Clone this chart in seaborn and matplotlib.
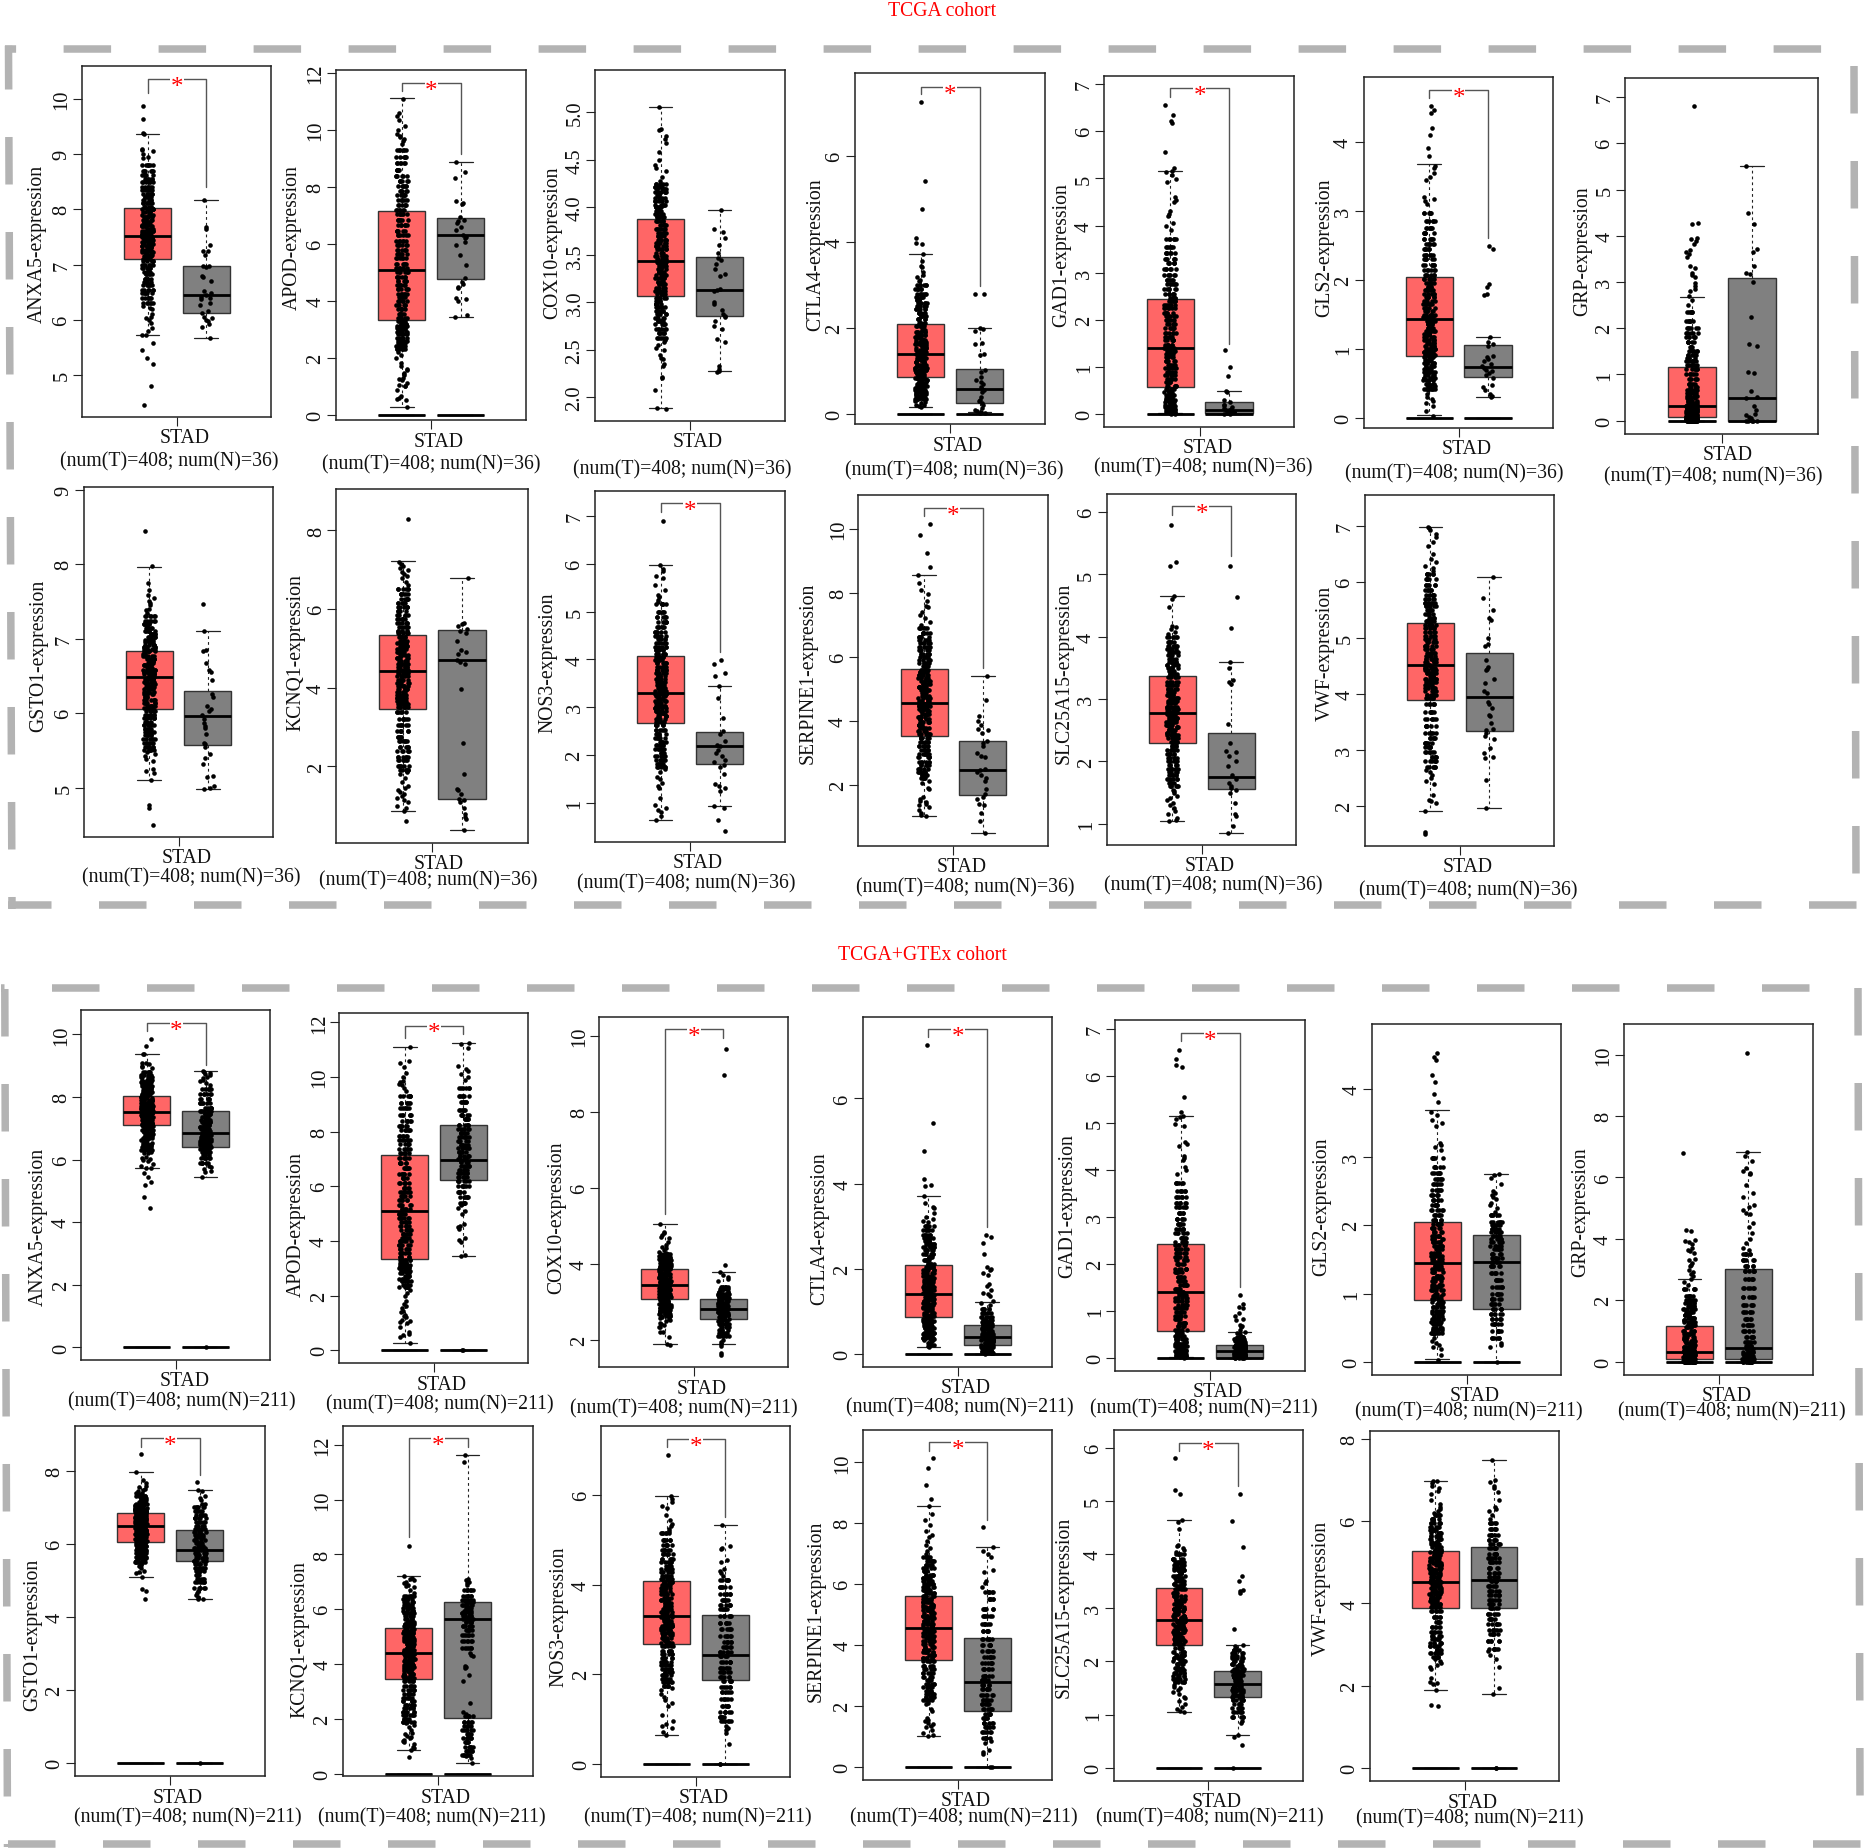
import numpy as np
import pandas as pd
import matplotlib
matplotlib.use('Agg')
import matplotlib.pyplot as plt
from matplotlib.lines import Line2D
from matplotlib.ticker import FormatStrFormatter
import seaborn as sns

W, H = 1866, 1849
GENES = ['ANXA5', 'APOD', 'COX10', 'CTLA4', 'GAD1', 'GLS2', 'GRP', 'GSTO1',
         'KCNQ1', 'NOS3', 'SERPINE1', 'SLC25A15', 'VWF']

# box summaries: low whisker, q1, median, q3, high whisker
T_STATS = [[5.72, 7.10, 7.52, 8.02, 9.36], [0.26, 3.33, 5.09, 7.14, 11.11], [1.89, 3.07, 3.44, 3.88, 5.06],
           [0.17, 0.86, 1.40, 2.09, 3.71], [0.02, 0.57, 1.40, 2.43, 5.15], [0.04, 0.90, 1.44, 2.05, 3.69],
           [0.0, 0.07, 0.32, 1.15, 2.68], [5.10, 6.06, 6.48, 6.84, 7.96], [0.86, 3.46, 4.42, 5.33, 7.21],
           [0.64, 2.67, 3.29, 4.08, 5.98], [1.03, 3.52, 4.55, 5.62, 8.56], [1.05, 2.30, 2.77, 3.37, 4.65],
           [1.91, 3.89, 4.52, 5.26, 6.98]]
N36_STATS = [[5.67, 6.12, 6.44, 6.98, 8.17], [3.44, 4.78, 6.31, 6.90, 8.86], [2.28, 2.86, 3.13, 3.48, 3.97],
             [0.05, 0.26, 0.59, 1.05, 2.0], [0.0, 0.02, 0.09, 0.25, 0.49], [0.30, 0.60, 0.74, 1.06, 1.17],
             [0.0, 0.0, 0.48, 3.09, 5.50], [4.98, 5.57, 5.96, 6.30, 7.10], [0.39, 1.17, 4.70, 5.47, 6.79],
             [0.94, 1.81, 2.19, 2.48, 3.45], [0.49, 1.66, 2.46, 3.37, 5.40], [0.86, 1.56, 1.75, 2.46, 3.59],
             [1.97, 3.34, 3.95, 4.73, 6.09]]
N211_STATS = [[5.45, 6.39, 6.84, 7.56, 8.82], [3.45, 6.24, 6.95, 8.24, 11.23], [1.90, 2.55, 2.82, 3.09, 3.78],
              [0.0, 0.22, 0.40, 0.67, 1.23], [0.0, 0.0, 0.15, 0.28, 0.55], [0.0, 0.78, 1.46, 1.86, 2.75],
              [0.0, 0.08, 0.45, 3.0, 6.84], [4.49, 5.52, 5.82, 6.39, 7.48], [0.40, 2.05, 5.63, 6.28, 11.64],
              [0.0, 1.88, 2.43, 3.32, 5.33], [0.0, 1.83, 2.78, 4.23, 7.21], [0.61, 1.32, 1.57, 1.81, 2.31],
              [1.80, 3.89, 4.57, 5.36, 7.49]]

# dots. The clouds are too dense to read one by one, so
# each value in a *_core list stands for CORE_REPEAT samples; tails are single dots
CORE_REPEAT = 6
T_CORE = {
    'ANXA5': [6.31, 6.4, 6.48, 6.54, 6.63, 6.69, 6.74, 6.82, 6.87, 6.94, 6.99, 7.06, 7.1, 7.15, 7.18, 7.23, 7.26, 7.31, 7.33, 7.37, 7.41, 7.44, 7.48, 7.5, 7.54, 7.57, 7.61, 7.64, 7.69, 7.72, 7.77, 7.8, 7.86, 7.9, 7.96, 8.0, 8.05, 8.11, 8.16, 8.23, 8.28, 8.35, 8.41, 8.49, 8.55, 8.63, 8.7, 8.81],
    'APOD': [2.3, 2.4, 2.52, 2.6, 2.7, 2.82, 2.9, 3.0, 3.06, 3.12, 3.2, 3.3, 3.4, 3.55, 3.7, 3.85, 4.0, 4.12, 4.25, 4.4, 4.55, 4.7, 4.85, 5.0, 5.15, 5.3, 5.5, 5.65, 5.8, 5.95, 6.1, 6.3, 6.45, 6.65, 6.85, 7.05, 7.2, 7.35, 7.55, 7.7, 7.85, 8.05, 8.2, 8.4, 8.6, 8.85, 9.05, 9.3],
    'COX10': [2.63, 2.68, 2.72, 2.77, 2.8, 2.84, 2.88, 2.91, 2.95, 2.98, 3.02, 3.05, 3.09, 3.12, 3.15, 3.19, 3.22, 3.26, 3.29, 3.32, 3.35, 3.38, 3.41, 3.43, 3.46, 3.49, 3.52, 3.56, 3.59, 3.63, 3.66, 3.7, 3.73, 3.77, 3.81, 3.86, 3.9, 3.93, 3.96, 4.0, 4.03, 4.07, 4.1, 4.13, 4.16, 4.19, 4.22, 4.25],
    'CTLA4': [0.35, 0.38, 0.42, 0.47, 0.5, 0.55, 0.6, 0.65, 0.7, 0.74, 0.78, 0.83, 0.88, 0.92, 0.97, 1.02, 1.07, 1.11, 1.15, 1.2, 1.25, 1.3, 1.34, 1.39, 1.44, 1.49, 1.53, 1.58, 1.63, 1.68, 1.73, 1.78, 1.84, 1.9, 1.96, 2.04, 2.12, 2.2, 2.28, 2.35, 2.43, 2.5, 2.58, 2.65, 2.72, 2.8, 2.9, 3.0],
    'GAD1': [0.05, 0.08, 0.11, 0.14, 0.17, 0.2, 0.25, 0.3, 0.34, 0.4, 0.46, 0.53, 0.6, 0.68, 0.74, 0.82, 0.9, 0.98, 1.05, 1.12, 1.2, 1.27, 1.33, 1.4, 1.47, 1.56, 1.64, 1.72, 1.82, 1.9, 2.0, 2.08, 2.15, 2.24, 2.32, 2.4, 2.46, 2.55, 2.66, 2.75, 2.85, 2.96, 3.08, 3.2, 3.3, 3.42, 3.55, 3.72],
    'GLS2': [0.42, 0.46, 0.5, 0.55, 0.58, 0.63, 0.67, 0.71, 0.75, 0.8, 0.84, 0.88, 0.92, 0.96, 1.0, 1.05, 1.09, 1.13, 1.18, 1.22, 1.26, 1.31, 1.36, 1.41, 1.46, 1.5, 1.55, 1.6, 1.65, 1.7, 1.75, 1.8, 1.85, 1.9, 1.96, 2.02, 2.08, 2.15, 2.22, 2.3, 2.37, 2.45, 2.52, 2.6, 2.68, 2.76, 2.85, 2.98],
    'GRP': [0.0, 0.0, 0.0, 0.0, 0.01, 0.01, 0.02, 0.03, 0.04, 0.05, 0.06, 0.07, 0.08, 0.1, 0.12, 0.14, 0.16, 0.18, 0.2, 0.22, 0.25, 0.27, 0.29, 0.31, 0.34, 0.38, 0.43, 0.48, 0.53, 0.6, 0.66, 0.73, 0.8, 0.9, 1.0, 1.12, 1.2, 1.28, 1.35, 1.42, 1.5, 1.6, 1.7, 1.8, 1.9, 2.0, 2.15, 2.35],
    'GSTO1': [5.5, 5.54, 5.6, 5.65, 5.7, 5.74, 5.79, 5.84, 5.88, 5.93, 5.98, 6.03, 6.07, 6.1, 6.14, 6.18, 6.21, 6.25, 6.28, 6.32, 6.35, 6.39, 6.42, 6.46, 6.49, 6.52, 6.55, 6.58, 6.61, 6.64, 6.67, 6.7, 6.73, 6.76, 6.79, 6.83, 6.86, 6.89, 6.92, 6.95, 6.98, 7.02, 7.06, 7.1, 7.14, 7.19, 7.24, 7.3],
    'KCNQ1': [1.9, 2.0, 2.15, 2.25, 2.4, 2.5, 2.65, 2.75, 2.9, 3.05, 3.2, 3.38, 3.5, 3.58, 3.66, 3.75, 3.82, 3.9, 3.98, 4.05, 4.13, 4.2, 4.3, 4.38, 4.46, 4.53, 4.6, 4.68, 4.75, 4.83, 4.9, 4.98, 5.05, 5.13, 5.2, 5.3, 5.38, 5.45, 5.55, 5.65, 5.75, 5.85, 5.95, 6.05, 6.15, 6.25, 6.38, 6.5],
    'NOS3': [1.75, 1.82, 1.9, 1.98, 2.05, 2.12, 2.2, 2.28, 2.36, 2.45, 2.53, 2.62, 2.7, 2.76, 2.82, 2.88, 2.93, 2.98, 3.03, 3.08, 3.13, 3.18, 3.23, 3.28, 3.33, 3.4, 3.46, 3.52, 3.58, 3.65, 3.71, 3.78, 3.85, 3.92, 3.99, 4.06, 4.12, 4.2, 4.27, 4.35, 4.42, 4.5, 4.58, 4.68, 4.78, 4.88, 5.0, 5.15],
    'SERPINE1': [2.2, 2.3, 2.4, 2.5, 2.62, 2.72, 2.85, 2.95, 3.08, 3.2, 3.32, 3.47, 3.58, 3.68, 3.78, 3.85, 3.95, 4.05, 4.13, 4.22, 4.3, 4.38, 4.46, 4.53, 4.62, 4.7, 4.78, 4.88, 4.96, 5.05, 5.15, 5.25, 5.33, 5.42, 5.52, 5.6, 5.7, 5.8, 5.9, 6.0, 6.1, 6.2, 6.3, 6.42, 6.52, 6.62, 6.75, 6.9],
    'SLC25A15': [1.6, 1.66, 1.72, 1.78, 1.83, 1.88, 1.94, 2.0, 2.06, 2.12, 2.18, 2.25, 2.32, 2.37, 2.42, 2.46, 2.5, 2.55, 2.59, 2.63, 2.66, 2.7, 2.73, 2.76, 2.8, 2.84, 2.88, 2.93, 2.97, 3.02, 3.07, 3.12, 3.17, 3.22, 3.28, 3.35, 3.4, 3.45, 3.5, 3.55, 3.6, 3.65, 3.7, 3.75, 3.8, 3.85, 3.92, 4.0],
    'VWF': [2.7, 2.8, 2.88, 2.97, 3.05, 3.13, 3.22, 3.3, 3.42, 3.55, 3.68, 3.82, 3.92, 3.98, 4.05, 4.1, 4.16, 4.22, 4.27, 4.32, 4.38, 4.43, 4.47, 4.52, 4.58, 4.63, 4.68, 4.74, 4.8, 4.85, 4.92, 4.98, 5.03, 5.1, 5.17, 5.24, 5.3, 5.36, 5.43, 5.5, 5.57, 5.63, 5.7, 5.77, 5.85, 5.95, 6.05, 6.15],
}
T_TAIL = {
    'ANXA5': [9.87, 9.63, 9.38, 9.36, 9.1, 9.08, 9.05, 9.0, 8.95, 8.92, 4.45, 4.8, 5.2, 5.3, 5.45, 5.58, 5.72, 5.73, 5.8, 5.85, 5.95, 6.0, 6.03, 6.05, 6.1, 6.2, 6.22, 6.25],
    'APOD': [11.08, 10.6, 10.5, 10.35, 10.15, 10.0, 9.85, 9.8, 9.75, 9.7, 9.6, 9.5, 0.26, 0.5, 0.55, 0.6, 0.65, 0.85, 1.0, 1.02, 1.05, 1.1, 1.2, 1.25, 1.3, 1.4, 1.45, 1.55, 1.6, 1.7, 1.8, 2.0, 2.1, 2.2],
    'COX10': [5.06, 4.83, 4.82, 4.75, 4.72, 4.68, 4.58, 4.5, 4.45, 4.42, 4.38, 4.32, 4.28, 1.89, 1.88, 2.08, 2.2, 2.22, 2.33, 2.35, 2.4, 2.42, 2.45, 2.5, 2.52, 2.55, 2.58, 2.6],
    'CTLA4': [7.25, 5.42, 4.77, 4.1, 3.97, 3.95, 3.71, 3.55, 3.45, 3.42, 3.3, 3.22, 3.18, 3.12, 3.1, 0.17, 0.18, 0.2, 0.22, 0.25, 0.27, 0.3, 0.33],
    'GAD1': [6.55, 6.35, 6.22, 6.18, 5.55, 5.22, 5.15, 5.13, 5.07, 4.98, 4.93, 4.6, 4.55, 4.5, 4.3, 4.25, 4.2, 4.05, 4.0, 3.9, 0.0, 0.01, 0.02, 0.02, 0.03, 0.03, 0.04, 0.04],
    'GLS2': [4.52, 4.47, 4.42, 4.2, 4.1, 3.92, 3.8, 3.66, 3.62, 3.55, 3.5, 3.45, 3.2, 3.18, 3.15, 3.1, 0.03, 0.1, 0.18, 0.22, 0.25, 0.28, 0.3, 0.35, 0.4],
    'GRP': [6.8, 4.28, 4.25, 3.95, 3.92, 3.88, 3.82, 3.7, 3.65, 3.6, 3.55, 3.35, 3.3, 3.2, 3.15, 3.1, 2.98, 2.92, 2.85, 2.8, 2.7, 2.6, 2.5],
    'GSTO1': [8.45, 7.97, 7.75, 7.65, 7.58, 7.55, 7.5, 7.48, 7.45, 7.4, 7.38, 7.35, 4.5, 4.72, 4.77, 5.1, 5.2, 5.22, 5.25, 5.35, 5.38, 5.42, 5.45, 5.48],
    'KCNQ1': [8.3, 7.2, 7.15, 7.1, 7.05, 7.0, 6.95, 6.9, 6.85, 6.8, 6.7, 6.6, 0.62, 0.86, 0.95, 1.0, 1.1, 1.15, 1.2, 1.25, 1.3, 1.35, 1.4, 1.45, 1.5, 1.6, 1.7, 1.8, 1.85],
    'NOS3': [6.9, 5.98, 5.9, 5.85, 5.75, 5.7, 5.55, 5.45, 5.35, 5.3, 5.25, 5.2, 0.64, 0.72, 0.8, 0.85, 0.9, 0.95, 1.1, 1.3, 1.35, 1.42, 1.5, 1.55, 1.65, 1.7],
    'SERPINE1': [10.15, 9.8, 9.25, 8.8, 8.55, 8.3, 8.1, 7.95, 7.75, 7.6, 7.55, 7.4, 7.3, 7.2, 7.1, 7.0, 1.03, 1.05, 1.1, 1.2, 1.3, 1.35, 1.4, 1.45, 1.5, 1.55, 1.6, 1.85, 1.9, 2.05, 2.1],
    'SLC25A15': [5.8, 5.2, 5.14, 4.65, 4.6, 4.47, 4.17, 4.15, 4.12, 4.08, 4.05, 1.05, 1.06, 1.1, 1.15, 1.2, 1.25, 1.3, 1.33, 1.38, 1.42, 1.45, 1.5, 1.52, 1.55],
    'VWF': [6.98, 6.96, 6.93, 6.85, 6.8, 6.72, 6.65, 6.5, 6.42, 6.35, 6.28, 6.25, 6.2, 1.5, 1.53, 1.91, 2.05, 2.08, 2.1, 2.2, 2.4, 2.45, 2.5, 2.55, 2.6, 2.65],
}
N36_DOTS = {
    'ANXA5': [8.17, 7.68, 7.65, 7.35, 7.25, 7.24, 7.18, 6.98, 6.97, 6.96, 6.8, 6.78, 6.7, 6.52, 6.48, 6.44, 6.42, 6.4, 6.38, 6.3, 6.27, 6.15, 6.12, 6.05, 6.03, 6.0, 5.98, 5.93, 5.87, 5.67],
    'APOD': [8.86, 8.52, 8.3, 7.5, 7.42, 7.4, 6.95, 6.85, 6.8, 6.72, 6.6, 6.5, 6.3, 6.25, 6.2, 6.05, 5.95, 5.6, 5.25, 4.8, 4.65, 4.6, 4.5, 4.45, 4.1, 4.05, 3.98, 3.5, 3.44],
    'COX10': [3.97, 3.77, 3.74, 3.68, 3.6, 3.52, 3.47, 3.45, 3.4, 3.35, 3.3, 3.28, 3.14, 3.13, 3.12, 3.0, 2.98, 2.92, 2.88, 2.86, 2.85, 2.8, 2.75, 2.72, 2.62, 2.58, 2.33, 2.3, 2.28, 2.27],
    'CTLA4': [2.8, 2.78, 2.0, 1.98, 1.92, 1.65, 1.62, 1.4, 1.38, 1.02, 0.98, 0.85, 0.8, 0.75, 0.7, 0.62, 0.58, 0.55, 0.5, 0.4, 0.33, 0.3, 0.25, 0.2, 0.15, 0.1, 0.08, 0.05, 0.03, 0.02],
    'GAD1': [1.35, 1.0, 0.8, 0.49, 0.47, 0.3, 0.25, 0.2, 0.18, 0.15, 0.12, 0.1, 0.09, 0.08, 0.07, 0.06, 0.05, 0.04, 0.03, 0.02, 0.01, 0.0],
    'GLS2': [2.5, 2.45, 1.95, 1.9, 1.8, 1.78, 1.17, 1.1, 1.07, 1.05, 0.9, 0.88, 0.85, 0.82, 0.78, 0.75, 0.73, 0.7, 0.68, 0.65, 0.62, 0.58, 0.48, 0.45, 0.4, 0.35, 0.32, 0.3],
    'GRP': [5.5, 4.5, 4.25, 3.72, 3.65, 3.35, 3.2, 3.18, 3.0, 2.25, 1.65, 1.62, 1.05, 1.03, 0.65, 0.5, 0.48, 0.32, 0.22, 0.15, 0.12, 0.08, 0.05, 0.02, 0.0, 0.0, 0.0, 0.0, 0.0],
    'GSTO1': [7.47, 7.1, 6.85, 6.84, 6.67, 6.58, 6.55, 6.45, 6.25, 6.22, 6.1, 6.05, 6.03, 5.98, 5.92, 5.87, 5.82, 5.8, 5.72, 5.6, 5.58, 5.55, 5.45, 5.4, 5.32, 5.15, 5.14, 5.02, 5.0, 4.98],
    'KCNQ1': [6.79, 5.65, 5.62, 5.58, 5.5, 5.45, 5.4, 5.2, 4.95, 4.9, 4.85, 4.7, 4.65, 4.6, 3.98, 2.6, 1.8, 1.43, 1.4, 1.3, 1.18, 1.15, 1.1, 0.95, 0.8, 0.72, 0.65, 0.39],
    'NOS3': [3.98, 3.9, 3.72, 3.65, 3.45, 3.2, 2.78, 2.5, 2.45, 2.3, 2.2, 2.18, 2.1, 2.05, 1.98, 1.9, 1.85, 1.8, 1.75, 1.6, 1.4, 1.35, 1.3, 1.25, 0.94, 0.9, 0.65, 0.42],
    'SERPINE1': [5.4, 4.65, 4.15, 4.0, 3.85, 3.75, 3.7, 3.6, 3.35, 3.3, 3.2, 3.0, 2.9, 2.85, 2.5, 2.45, 2.4, 2.3, 2.2, 2.1, 1.85, 1.7, 1.6, 1.55, 1.4, 1.35, 1.1, 0.85, 0.49],
    'SLC25A15': [5.14, 4.63, 4.14, 3.59, 3.5, 3.3, 3.28, 3.25, 2.6, 2.3, 2.17, 2.15, 2.08, 2.0, 1.93, 1.78, 1.72, 1.65, 1.6, 1.58, 1.55, 1.5, 1.33, 1.15, 1.12, 0.97, 0.86],
    'VWF': [6.09, 5.72, 5.5, 5.35, 5.32, 5.0, 4.9, 4.85, 4.6, 4.48, 4.45, 4.42, 4.27, 4.2, 4.05, 4.02, 3.86, 3.82, 3.75, 3.62, 3.6, 3.48, 3.38, 3.35, 3.3, 3.25, 3.2, 3.03, 2.95, 2.88, 2.85, 2.46, 1.97],
}
N211_CORE = {
    'ANXA5': [5.9, 6.05, 6.15, 6.25, 6.33, 6.4, 6.46, 6.52, 6.58, 6.65, 6.72, 6.8, 6.85, 6.92, 6.98, 7.05, 7.12, 7.2, 7.28, 7.36, 7.45, 7.55, 7.65, 7.8, 7.95, 8.1, 8.25],
    'APOD': [5.4, 5.6, 5.8, 6.0, 6.2, 6.35, 6.5, 6.6, 6.75, 6.9, 7.0, 7.1, 7.25, 7.4, 7.5, 7.65, 7.8, 7.95, 8.1, 8.25, 8.45, 8.6, 8.8, 9.1, 9.3, 9.6],
    'COX10': [2.1, 2.18, 2.26, 2.34, 2.42, 2.5, 2.56, 2.61, 2.66, 2.7, 2.74, 2.78, 2.82, 2.86, 2.9, 2.94, 2.98, 3.02, 3.06, 3.1, 3.14, 3.18, 3.22, 3.27, 3.33, 3.4],
    'CTLA4': [0.02, 0.05, 0.08, 0.1, 0.13, 0.16, 0.19, 0.22, 0.25, 0.28, 0.3, 0.33, 0.36, 0.4, 0.43, 0.47, 0.5, 0.54, 0.58, 0.62, 0.66, 0.7, 0.75, 0.8, 0.86, 0.95, 1.05],
    'GAD1': [0.0, 0.01, 0.02, 0.03, 0.04, 0.05, 0.06, 0.07, 0.08, 0.09, 0.1, 0.12, 0.13, 0.15, 0.16, 0.18, 0.2, 0.22, 0.24, 0.26, 0.28, 0.3, 0.33, 0.36, 0.4, 0.45],
    'GLS2': [0.35, 0.45, 0.55, 0.62, 0.7, 0.78, 0.85, 0.92, 1.0, 1.1, 1.2, 1.3, 1.4, 1.46, 1.52, 1.58, 1.65, 1.7, 1.75, 1.8, 1.85, 1.9, 1.95, 2.0, 2.05, 2.15],
    'GRP': [0.0, 0.0, 0.02, 0.04, 0.06, 0.08, 0.12, 0.18, 0.25, 0.32, 0.42, 0.5, 0.65, 0.8, 1.0, 1.2, 1.4, 1.6, 1.85, 2.1, 2.4, 2.7, 2.95, 3.1, 3.3, 3.5],
    'GSTO1': [4.8, 4.95, 5.05, 5.15, 5.25, 5.35, 5.45, 5.52, 5.6, 5.68, 5.75, 5.82, 5.88, 5.95, 6.02, 6.1, 6.18, 6.25, 6.32, 6.4, 6.5, 6.6, 6.7, 6.8, 6.9, 7.0],
    'KCNQ1': [0.7, 0.85, 1.0, 1.15, 1.3, 1.45, 1.6, 1.75, 1.9, 2.1, 4.6, 4.85, 5.05, 5.25, 5.4, 5.55, 5.65, 5.75, 5.85, 5.95, 6.05, 6.15, 6.25, 6.35, 6.5, 6.7],
    'NOS3': [0.95, 1.05, 1.15, 1.3, 1.45, 1.6, 1.72, 1.85, 1.95, 2.05, 2.15, 2.28, 2.4, 2.5, 2.6, 2.72, 2.85, 3.0, 3.15, 3.3, 3.45, 3.55, 3.65, 3.8, 3.95, 4.1],
    'SERPINE1': [0.95, 1.15, 1.3, 1.45, 1.6, 1.75, 1.9, 2.05, 2.2, 2.35, 2.55, 2.7, 2.85, 3.0, 3.2, 3.4, 3.6, 3.8, 4.0, 4.2, 4.45, 4.7, 4.95, 5.2, 5.5, 5.75],
    'SLC25A15': [0.95, 1.05, 1.12, 1.2, 1.28, 1.32, 1.36, 1.42, 1.46, 1.5, 1.54, 1.58, 1.62, 1.66, 1.7, 1.74, 1.78, 1.82, 1.86, 1.9, 1.95, 2.0, 2.05, 2.1, 2.15, 2.2],
    'VWF': [2.9, 3.1, 3.25, 3.35, 3.5, 3.62, 3.75, 3.88, 3.98, 4.08, 4.2, 4.3, 4.42, 4.55, 4.65, 4.75, 4.85, 5.0, 5.1, 5.2, 5.35, 5.45, 5.55, 5.65, 5.8, 5.95],
}
N211_TAIL = {
    'ANXA5': [8.82, 8.8, 8.78, 8.75, 8.7, 8.65, 8.6, 8.55, 8.5, 8.45, 8.4, 5.45, 5.6, 5.65, 5.7, 5.75, 5.8, 0.0],
    'APOD': [11.25, 11.2, 11.05, 10.4, 10.3, 10.2, 10.1, 10.0, 9.9, 5.3, 5.2, 5.1, 5.0, 4.6, 4.55, 4.5, 4.45, 4.1, 4.05, 3.95, 3.5, 3.45, 0.0, 0.0],
    'COX10': [9.67, 8.97, 3.97, 3.78, 3.7, 3.65, 3.6, 3.55, 1.9, 1.85, 1.65, 1.6, 1.95, 2.0],
    'CTLA4': [2.8, 2.75, 2.6, 2.35, 2.05, 2.0, 1.98, 1.9, 1.85, 1.65, 1.6, 1.5, 1.42, 1.4, 1.35, 1.25, 1.2, 1.15, 0.0],
    'GAD1': [1.33, 1.15, 1.08, 1.05, 0.95, 0.9, 0.82, 0.8, 0.7, 0.68, 0.65, 0.6, 0.55, 0.52, 0.5],
    'GLS2': [2.75, 2.73, 2.7, 2.6, 2.5, 2.48, 2.45, 2.42, 2.38, 2.32, 2.3, 2.25, 2.2, 0.28, 0.25, 0.22, 0.0],
    'GRP': [10.05, 6.84, 6.7, 6.55, 6.3, 6.2, 6.15, 6.1, 5.75, 5.5, 5.35, 5.1, 5.05, 4.95, 4.85, 4.8, 4.5, 4.4, 4.2, 4.0, 3.85, 3.7, 3.65],
    'GSTO1': [7.68, 7.48, 7.45, 7.3, 7.25, 7.2, 7.1, 7.08, 4.49, 4.5, 4.55, 4.6, 4.65, 4.7, 0.0],
    'KCNQ1': [11.64, 11.35, 7.1, 7.05, 7.0, 6.95, 6.9, 4.4, 4.35, 4.3, 3.95, 3.9, 3.85, 3.6, 3.4, 2.6, 2.25, 2.2, 0.65, 0.6, 0.4],
    'NOS3': [5.33, 4.85, 4.82, 4.8, 4.55, 4.5, 4.35, 4.3, 4.25, 4.2, 0.85, 0.8, 0.75, 0.7, 0.45, 0.0, 0.0],
    'SERPINE1': [7.87, 7.21, 7.1, 7.0, 6.9, 6.45, 6.4, 6.1, 6.05, 5.9, 0.85, 0.8, 0.55, 0.48, 0.42, 0.0, 0.0],
    'SLC25A15': [5.14, 4.63, 4.13, 3.59, 3.5, 3.33, 3.32, 3.28, 2.61, 2.31, 2.28, 2.25, 0.88, 0.85, 0.61, 0.58, 0.43, 0.0],
    'VWF': [7.49, 7.0, 6.95, 6.85, 6.8, 6.7, 6.5, 6.35, 6.3, 6.25, 6.15, 6.05, 2.85, 2.75, 2.65, 2.45, 1.95, 1.8, 0.0, 0.0],
}

YTICKS_36 = [[5, 6, 7, 8, 9, 10], [0, 2, 4, 6, 8, 10, 12], [2, 2.5, 3, 3.5, 4, 4.5, 5], [0, 2, 4, 6],
             [0, 1, 2, 3, 4, 5, 6, 7], [0, 1, 2, 3, 4], [0, 1, 2, 3, 4, 5, 6, 7], [5, 6, 7, 8, 9], [2, 4, 6, 8],
             [1, 2, 3, 4, 5, 6, 7], [2, 4, 6, 8, 10], [1, 2, 3, 4, 5, 6], [2, 3, 4, 5, 6, 7]]
YTICKS_211 = [[0, 2, 4, 6, 8, 10], [0, 2, 4, 6, 8, 10, 12], [2, 4, 6, 8, 10], [0, 2, 4, 6],
              [0, 1, 2, 3, 4, 5, 6, 7], [0, 1, 2, 3, 4], [0, 2, 4, 6, 8, 10], [0, 2, 4, 6, 8], [0, 2, 4, 6, 8, 10, 12],
              [0, 2, 4, 6], [0, 2, 4, 6, 8, 10], [0, 1, 2, 3, 4, 5, 6], [0, 2, 4, 6, 8]]
YLIM_36 = [(4.245, 10.60), (-0.20, 12.12), (1.755, 5.45), (-0.24, 7.92), (-0.27, 7.18), (-0.145, 4.95), (-0.29, 7.42),
           (4.34, 9.04), (0.06, 9.06), (0.18, 7.53), (0.08, 11.07), (0.66, 6.29), (1.29, 7.56)]
YLIM_211 = [(-0.40, 10.79), (-0.48, 12.35), (1.28, 10.51), (-0.30, 7.92), (-0.28, 7.18), (-0.19, 4.95), (-0.43, 11.0),
            (-0.36, 9.23), (-0.085, 12.69), (-0.29, 7.53), (-0.43, 11.07), (-0.24, 6.33), (-0.315, 8.19)]

# significance brackets: left end, top, right end (None = not significant)
BRACKET_36 = [(10.11, 10.36, 8.41), (11.38, 11.66, 9.15), None, (7.43, 7.61, 2.97), (6.72, 6.91, 1.49),
              (4.64, 4.76, 2.61), None, None, None, (7.09, 7.27, 4.16), (10.40, 10.66, 5.64), (5.95, 6.09, 5.29), None]
BRACKET_211 = [(10.10, 10.37, 9.03), (11.41, 11.88, 11.57), (5.32, 10.18, 9.95), (7.44, 7.63, 2.98), (6.73, 6.90, 1.50),
               None, None, (8.66, 8.89, 7.88), (8.63, 12.23, 11.93), (7.06, 7.25, 5.50), (10.38, 10.66, 8.12),
               (5.94, 6.09, 5.29), None]

# layout in reference pixels: left, top, right, bottom
BOX_36 = [(82, 66.7, 271, 417.7), (336, 70.7, 526, 421.3), (595, 70.7, 784.5, 421.7), (855, 74.3, 1044.6, 425.3),
          (1104.4, 76.7, 1294, 427.7), (1363.5, 77.7, 1553, 429), (1624.8, 78.7, 1817.7, 435),
          (83.7, 487.7, 272.7, 837.7), (336.3, 489.7, 527.8, 843.7), (595, 491.7, 784.5, 843),
          (858.4, 495.7, 1047.8, 847), (1106.5, 495, 1296.3, 846), (1364.8, 495.7, 1554, 846.7)]
BOX_211 = [(81.4, 1010.7, 270.4, 1361), (339.3, 1013.7, 528.2, 1364.3), (599.3, 1017.7, 788.3, 1368.3),
           (862.8, 1017.7, 1052.2, 1367.7), (1115.3, 1021.3, 1304.5, 1372), (1371.6, 1025, 1561, 1375.7),
           (1623.5, 1025, 1813.4, 1375.7), (75, 1426.7, 265, 1777.3), (342.9, 1426.7, 532.7, 1777.3),
           (601.2, 1427.3, 790.2, 1778), (862.9, 1430.7, 1052.2, 1781), (1113.5, 1431, 1302.5, 1781.7),
           (1369.8, 1431.7, 1558.8, 1782.3)]
# y label: distance left of the frame, centre y
YLAB_36 = [(45, 244), (44, 238), (42, 242.5), (39, 255), (43, 255), (38.5, 248), (42.5, 251), (45, 656), (40, 653),
           (47, 663), (50, 673), (42, 673), (40, 653)]
YLAB_211 = [(43, 1226.7), (43, 1225), (43, 1217.5), (43, 1229), (48, 1205.8), (50, 1206.7), (43, 1212.5),
            (42.5, 1634.7), (43, 1640), (42, 1616.7), (47, 1611), (49, 1607), (49, 1588)]
# "(num...)" line: centre x from frame left, centre y below frame bottom
NUM_36 = [(87.7, 42), (95, 41), (87, 46), (99.6, 43), (99, 38), (91, 42), (88, 39), (107.3, 38), (91.5, 35),
          (91.5, 38), (107, 38), (107, 37), (103, 41.5)]
NUM_211 = [(100.4, 38), (100.7, 38), (84.6, 38), (96.8, 38), (89, 34), (97, 34), (108.8, 34), (113, 38), (89, 38),
           (96.7, 37), (100.8, 34), (96.5, 33.3), (100, 33.7)]

RED = '#FF6666'
GREY = '#808080'
ORDER = ['Tumor', 'Normal']
FONT = 14.2
TICK_FONT = 14.8
INK = '#111111'
PX = 0.72  # points per pixel at dpi=100

sns.set_theme(style='ticks')
plt.rcParams['font.family'] = ['Liberation Serif']
plt.rcParams['lines.scale_dashes'] = False
np.random.seed(7)

fig = plt.figure(figsize=(W / 100, H / 100), dpi=100)


def fx(x):
    return x / W


def fy(y):
    return 1 - y / H


def box_frame(t_stats, n_stats):
    return pd.DataFrame({'group': ['Tumor'] * 5 + ['Normal'] * 5, 'value': list(t_stats) + list(n_stats)})


def draw_boxes(ax, frame):
    sns.boxplot(data=frame, x='group', y='value', hue='group', order=ORDER, hue_order=ORDER,
                palette=[RED, GREY], saturation=1, width=0.8, whis=(0, 100), fliersize=0,
                linecolor='#333333', linewidth=1.0, legend=False, ax=ax,
                medianprops={'color': 'black', 'linewidth': 2.0},
                whiskerprops={'color': '#222222', 'linewidth': 0.8, 'linestyle': (0, (2, 2.2))},
                capprops={'color': '#222222', 'linewidth': 0.9})


def draw_panel(i, box, t_stats, n_stats, t_dots, n_dots, ylim, yticks, bracket, ylab, num, n_text):
    gene = GENES[i]
    left, top, right, bottom = box
    ax = fig.add_axes([fx(left), fy(bottom), (right - left) / W, (bottom - top) / H])

    # the flat black bars at zero are boxes of all-zero groups
    if ylim[0] < 0:
        draw_boxes(ax, box_frame([0] * 5, [0] * 5))
    draw_boxes(ax, box_frame(t_stats, n_stats))

    dots = pd.DataFrame({'group': ['Tumor'] * len(t_dots) + ['Normal'] * len(n_dots),
                         'value': list(t_dots) + list(n_dots)})
    sns.stripplot(data=dots, x='group', y='value', order=ORDER, color='black', size=3.3,
                  linewidth=0, jitter=0.1, ax=ax, zorder=5)

    if bracket is not None:
        ax.plot([0, 0, 1, 1], [bracket[0], bracket[1], bracket[1], bracket[2]], color='#555555', lw=1.0, zorder=3)
        ax.annotate('*', xy=(0.5, bracket[1]), xytext=(0, -10), textcoords='offset points', ha='center',
                    va='baseline', color='red', fontsize=18, zorder=4,
                    bbox={'facecolor': 'white', 'edgecolor': 'none', 'pad': 0.3})

    ax.set_xlim(-1.116, 2.104)
    ax.set_ylim(*ylim)
    ax.set_xticks([0.5], [''])
    ax.set_yticks(yticks)
    if gene == 'COX10' and n_text == '36':
        ax.yaxis.set_major_formatter(FormatStrFormatter('%.1f'))
    ax.tick_params(axis='both', length=6.5, width=0.8, color='#222222', labelcolor=INK, pad=1)
    ax.tick_params(axis='y', labelsize=TICK_FONT, labelrotation=90)
    for lab in ax.get_yticklabels():
        lab.set_va('center')
    for spine in ax.spines.values():
        spine.set_visible(True)
        spine.set_linewidth(1.1)
        spine.set_color('#222222')

    ax.set_xlabel('')
    ax.set_ylabel(gene + '-expression', fontsize=FONT, color=INK, va='center')
    ax.yaxis.set_label_coords(-ylab[0] / (right - left), 1 - (ylab[1] - top) / (bottom - top))

    fig.text(fx(left + 102.8), fy(bottom + 20.8), 'STAD', ha='center', va='center', fontsize=FONT, color=INK)
    fig.text(fx(left + num[0]), fy(bottom + num[1] + 2.5), '(num(T)=408; num(N)=%s)' % n_text, ha='center',
             va='center', fontsize=FONT, color=INK)


def dash_line(x0, y0, x1, y1, offset):
    fig.add_artist(Line2D([fx(x0), fx(x1)], [fy(y0), fy(y1)], color='#B3B3B3', lw=7.5 * PX,
                          linestyle=(offset * PX, (47.5 * PX, 47.5 * PX)), transform=fig.transFigure))


# dashed frames of the two cohorts
dash_line(5, 50, 1855, 50, 36.4)
dash_line(8.5, 46.7, 12, 910, 3.7)
dash_line(1854, 67, 1856, 880, 0)
dash_line(8, 906, 1858, 906, 4)
dash_line(1, 989, 1812, 989, 44)
dash_line(4.8, 990, 7.5, 1848, 0)
dash_line(1858, 989, 1860, 1800, 0)
dash_line(8, 1845, 1862, 1845, 0)

for i, gene in enumerate(GENES):
    t_dots = list(np.repeat(T_CORE[gene], CORE_REPEAT)) + T_TAIL[gene]
    n211_dots = list(np.repeat(N211_CORE[gene], CORE_REPEAT)) + N211_TAIL[gene]
    draw_panel(i, BOX_36[i], T_STATS[i], N36_STATS[i], t_dots, N36_DOTS[gene], YLIM_36[i], YTICKS_36[i],
               BRACKET_36[i], YLAB_36[i], NUM_36[i], '36')
    draw_panel(i, BOX_211[i], T_STATS[i], N211_STATS[i], t_dots, n211_dots, YLIM_211[i], YTICKS_211[i],
               BRACKET_211[i], YLAB_211[i], NUM_211[i], '211')

fig.text(fx(942.5), fy(12), 'TCGA cohort', ha='center', va='center', color='red', fontsize=FONT)
fig.text(fx(922), fy(956), 'TCGA+GTEx cohort', ha='center', va='center', color='red', fontsize=FONT)

fig.savefig('out.png', dpi=100, facecolor='white')
